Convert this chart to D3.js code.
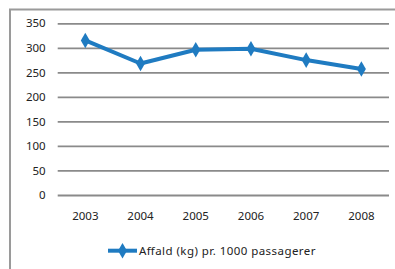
<!DOCTYPE html>
<html><head><meta charset="utf-8">
<script src="https://cdn.jsdelivr.net/npm/d3@7"></script>
<style>body{margin:0;background:#fff}svg{display:block}</style>
</head><body>
<script>
const categories = ["2003","2004","2005","2006","2007","2008"];
const values = [315, 268, 296, 298, 275, 257];
const yTicks = [0,50,100,150,200,250,300,350];
const seriesName = "Affald (kg) pr. 1000 passagerer";

const W=395,H=269;
const svg=d3.select("body").append("svg").attr("width",W).attr("height",H);
const font="'Noto Sans', sans-serif";
const blue="#1f7bc1";

// frame
svg.append("path").attr("d",`M10,${H+2}V9.5H${W+5}`).attr("fill","none").attr("stroke","#9a9a9a").attr("stroke-width",2);

const x=d3.scaleBand().domain(categories).range([57.7,389]);
const y=d3.scaleLinear().domain([0,350]).range([195,23.3]);

const yAxis=svg.append("g").attr("transform","translate(57.7,0)")
  .call(d3.axisLeft(y).tickValues(yTicks).tickSize(-(389-57.7)).tickPadding(12));
yAxis.select(".domain").remove();
yAxis.selectAll("line").attr("stroke","#8a8a8a").attr("stroke-width",1.8);
yAxis.selectAll("text").attr("font-family",font).attr("font-size",11.5).attr("fill","#222");

const xAxis=svg.append("g").attr("transform","translate(0,195)")
  .call(d3.axisBottom(x).tickSize(0).tickPadding(17));
xAxis.select(".domain").remove();
xAxis.selectAll("text").attr("font-family",font).attr("font-size",11.5).attr("fill","#222");

const pts=categories.map((c,i)=>[x(c)+x.bandwidth()/2,y(values[i])]);
svg.append("path").attr("d",d3.line()(pts)).attr("fill","none").attr("stroke",blue).attr("stroke-width",4).attr("stroke-linejoin","round");
const diamond=d3.symbol().type(d3.symbolDiamond).size(70);
svg.selectAll(".m").data(pts).join("path").attr("d",diamond)
  .attr("transform",d=>`translate(${d[0]},${d[1]})`).attr("fill",blue);

// legend
const lg=svg.append("g");
lg.append("line").attr("x1",108).attr("x2",137).attr("y1",250.7).attr("y2",250.7).attr("stroke",blue).attr("stroke-width",4);
lg.append("path").attr("d",diamond).attr("transform","translate(122.5,250.7)").attr("fill",blue);
lg.append("text").attr("x",139).attr("y",250.7).attr("dy","0.35em").attr("font-family",font).attr("font-size",11.5)
  .attr("textLength",176.5).attr("lengthAdjust","spacing").attr("fill","#222").text(seriesName);
</script>
</body></html>
